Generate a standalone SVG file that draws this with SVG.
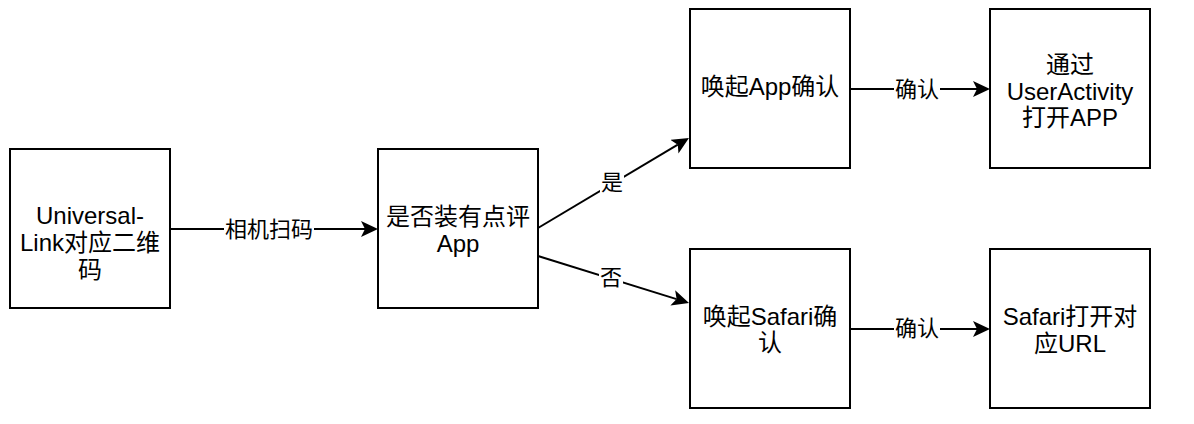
<svg xmlns="http://www.w3.org/2000/svg" width="1194" height="424" viewBox="0 0 1194 424">
<style>
.box{fill:#fff;stroke:#000;stroke-width:2}
.t{font-family:"Liberation Sans","Noto Sans CJK SC",sans-serif;font-size:24px;fill:#000;text-anchor:middle}
.lbl{font-family:"Liberation Sans","Noto Sans CJK SC",sans-serif;font-size:22px;fill:#000;text-anchor:middle;dominant-baseline:central}
.edge{fill:none;stroke:#000;stroke-width:2}
.bg{fill:#fff}
</style>
<defs>
<marker id="arr" markerUnits="userSpaceOnUse" markerWidth="18" markerHeight="16" viewBox="0 0 18 16" refX="4" refY="8" orient="auto">
<path d="M17,8 L0,0 L4,8 L0,16 Z" fill="#000"/>
</marker>
</defs>
<g id="connectors">
<path class="edge" d="M170,229 L365,229" marker-end="url(#arr)"/>
<path class="edge" d="M538,228 L677.8,144.7" marker-end="url(#arr)"/>
<path class="edge" d="M538,256 L676.6,299.1" marker-end="url(#arr)"/>
<path class="edge" d="M850,89 L977,89" marker-end="url(#arr)"/>
<path class="edge" d="M850,329 L977,329" marker-end="url(#arr)"/>
<rect class="bg" x="224" y="217" width="90" height="24"/>
<text class="lbl" x="269" y="229">相机扫码</text>
<rect class="bg" x="600" y="170" width="24" height="24"/>
<text class="lbl" x="612" y="182">是</text>
<rect class="bg" x="599" y="265" width="24" height="24"/>
<text class="lbl" x="611" y="277">否</text>
<rect class="bg" x="894" y="77" width="46" height="24"/>
<text class="lbl" x="917" y="89">确认</text>
<rect class="bg" x="894" y="316" width="46" height="24"/>
<text class="lbl" x="917" y="328">确认</text>
</g>
<g id="n1">
<rect class="box" x="10" y="149" width="160" height="159"/>
<text class="t" x="90" y="223.5">Universal-</text>
<text class="t" x="90" y="250.5">Link对应二维</text>
<text class="t" x="90" y="277.5">码</text>
</g>
<g id="n2">
<rect class="box" x="378" y="149" width="160" height="159"/>
<text class="t" x="458" y="225">是否装有点评</text>
<text class="t" x="458" y="252">App</text>
</g>
<g id="n3">
<rect class="box" x="690" y="9" width="160" height="159"/>
<text class="t" x="770" y="95">唤起App确认</text>
</g>
<g id="n4">
<rect class="box" x="990" y="9" width="160" height="159"/>
<text class="t" x="1070" y="72.5">通过</text>
<text class="t" x="1070" y="99.5">UserActivity</text>
<text class="t" x="1070" y="125.5">打开APP</text>
</g>
<g id="n5">
<rect class="box" x="690" y="249" width="160" height="159"/>
<text class="t" x="770" y="325">唤起Safari确</text>
<text class="t" x="770" y="351">认</text>
</g>
<g id="n6">
<rect class="box" x="990" y="249" width="160" height="159"/>
<text class="t" x="1070" y="325">Safari打开对</text>
<text class="t" x="1070" y="351.5">应URL</text>
</g>
</svg>
